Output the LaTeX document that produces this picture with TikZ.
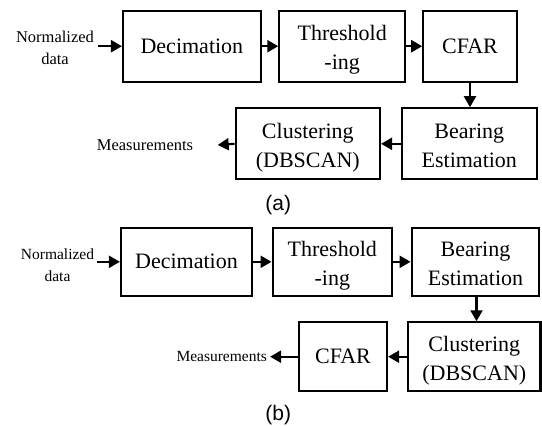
\documentclass[tikz,border=0pt]{standalone}
\usepackage{fontspec}
\setmainfont{Liberation Serif}
\newfontfamily\capfont{Liberation Sans}
\usetikzlibrary{arrows.meta}
\newcommand\twolines[2]{\raisebox{-3pt}[\height][\depth]{\begin{tabular}{@{}c@{}}#1\\#2\end{tabular}}}
\begin{document}
\begin{tikzpicture}[x=1pt,y=-1pt,
  blk/.style={draw,line width=2.2pt,inner sep=0pt,align=center,
    font=\fontsize{22}{29}\selectfont},
  arr/.style={line width=2.2pt,-{Triangle[length=11pt,width=12pt]}},
  lbl/.style={inner sep=0pt,align=center,font=\fontsize{16.5}{22}\selectfont},
  lblb/.style={inner sep=0pt,align=center,font=\fontsize{15.5}{22}\selectfont},
  captxt/.style={inner sep=0pt,font=\capfont\fontsize{21}{24}\selectfont}]
\useasboundingbox (0,0) rectangle (542,426);
% (a)
\node[lbl] (in_a) at (55,48) {Normalized\\data};
\node[blk,minimum width=137.7pt,minimum height=71pt] (dec_a) at (191.9,46.2) {Decimation};
\node[blk,minimum width=125.7pt,minimum height=71pt] (thr_a) at (342.2,46.2) {\twolines{Threshold}{-ing}};
\node[blk,minimum width=93.4pt,minimum height=71pt] (cfar_a) at (470,46.2) {CFAR};
\node[blk,minimum width=134.7pt,minimum height=71pt] (bear_a) at (469.3,143.8) {\twolines{Bearing}{Estimation}};
\node[blk,minimum width=144.3pt,minimum height=71pt] (clus_a) at (307.8,143.8) {\twolines{Clustering}{(DBSCAN)}};
\node[lbl] (meas_a) at (145,145) {Measurements};
\coordinate (out_a) at (217.7,145);
\node[captxt] (cap_a) at (278.3,205.5) {(a)};
\draw[arr] (in_a.east |- dec_a.west) ++(4,0) coordinate (s_a) (s_a) -- (dec_a.west);
\draw[arr] (dec_a) -- (thr_a);
\draw[arr] (thr_a) -- (cfar_a);
\draw[arr] (cfar_a.south) -- (cfar_a.south |- bear_a.north);
\draw[arr] (bear_a) -- (clus_a);
\draw[arr] (clus_a.west) -- (out_a);
% (b)
\node[lblb] (in_b) at (57.5,265) {Normalized\\data};
\node[blk,minimum width=131pt,minimum height=68.3pt] (dec_b) at (186.5,261.8) {Decimation};
\node[blk,minimum width=119.3pt,minimum height=68.3pt] (thr_b) at (332.3,261.8) {\twolines{Threshold}{-ing}};
\node[blk,minimum width=127.6pt,minimum height=68.3pt] (bear_b) at (475.5,261.8) {\twolines{Bearing}{Estimation}};
\node[blk,minimum width=132.3pt,minimum height=68.7pt] (clus_b) at (474.3,356.7) {\twolines{Clustering}{(DBSCAN)}};
\node[blk,minimum width=88pt,minimum height=68.7pt] (cfar_b) at (343,356.7) {CFAR};
\node[lblb] (meas_b) at (221.7,356.7) {Measurements};
\node[captxt] (cap_b) at (278.3,415.5) {(b)};
\draw[arr] (in_b.east |- dec_b.west) ++(3,0) coordinate (s_b) (s_b) -- (dec_b.west);
\draw[arr] (dec_b) -- (thr_b);
\draw[arr] (thr_b) -- (bear_b);
\draw[arr] ([xshift=1pt]bear_b.south) -- ([xshift=1pt]bear_b.south |- clus_b.north);
\draw[arr] (clus_b) -- (cfar_b);
\draw[arr] (cfar_b.west) -- ([xshift=3pt]meas_b.east);
\end{tikzpicture}
\end{document}
